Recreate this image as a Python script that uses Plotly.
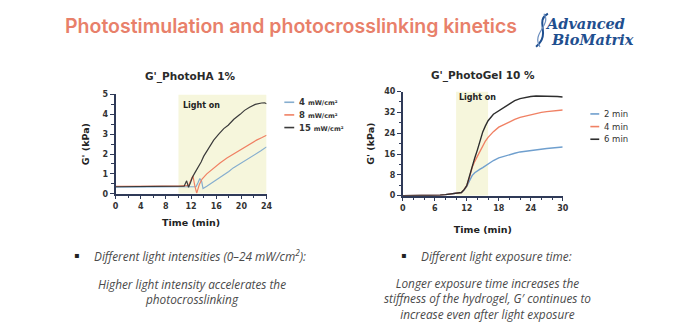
import plotly.graph_objects as go

W, H = 700, 332

# ---------------- data ----------------
# Left panel: G'_PhotoHA 1%  (time in min, G' in kPa)
ha_names = ["4", "8", "15"]
ha_colors = ["#86aecf", "#f08164", "#3b3b3b"]

t_ha_4 = [0, 2, 4, 6, 8, 10, 11, 12, 12.8, 13.1, 13.4, 13.7, 13.9, 14.5, 15.2, 16.1, 17, 18, 18.7, 19.5, 20.3, 21.3, 22.2, 23.1, 24]
g_ha_4 = [0.33, 0.33, 0.33, 0.33, 0.34, 0.34, 0.36, 0.35, 0.36, 0.55, 0.77, 0.6, 0.26, 0.38, 0.52, 0.7, 0.9, 1.12, 1.3, 1.45, 1.6, 1.8, 1.97, 2.16, 2.36]

t_ha_8 = [0, 2, 4, 6, 8, 10, 11, 11.6, 12.0, 12.3, 12.6, 12.9, 13.3, 13.75, 14.5, 15.6, 16.6, 17.7, 19, 20.3, 21.3, 22.4, 23.2, 24]
g_ha_8 = [0.37, 0.38, 0.38, 0.38, 0.38, 0.38, 0.39, 0.42, 0.7, 0.9, 0.4, 0.03, 0.45, 0.74, 1.0, 1.31, 1.55, 1.8, 2.05, 2.29, 2.5, 2.7, 2.82, 2.95]

t_ha_15 = [0, 2, 4, 6, 8, 10, 10.9, 11.3, 11.6, 11.9, 12.2, 12.6, 13.1, 13.6, 14.0, 14.8, 15.6, 16.4, 17.2, 17.9, 18.8, 19.8, 20.5, 21.3, 22.2, 23.2, 23.7, 24]
g_ha_15 = [0.35, 0.35, 0.35, 0.35, 0.35, 0.36, 0.38, 0.65, 0.32, 0.55, 0.82, 1.05, 1.3, 1.6, 1.88, 2.3, 2.7, 3.0, 3.28, 3.45, 3.75, 4.0, 4.2, 4.36, 4.5, 4.57, 4.58, 4.53]

# Right panel: G'_PhotoGel 10 %
gel_names = ["2 min", "4 min", "6 min"]
gel_colors = ["#6f9fce", "#f08164", "#2e2e2e"]

t_gel = [0, 3, 6, 7, 8, 9, 10, 11, 11.5, 12, 12.5, 13, 13.5, 14, 14.5, 15, 15.5, 16, 17, 18, 19, 20, 21, 22, 23, 24, 25, 26, 27, 28, 29, 30]
g_gel_2 = [0, 0, 0.1, 0.2, 0.4, 0.7, 0.9, 1.2, 2.2, 3.6, 5.7, 7.7, 8.8, 9.6, 10.2, 10.8, 11.5, 12.3, 13.5, 14.5, 15.2, 15.8, 16.3, 16.8, 17.1, 17.4, 17.7, 17.9, 18.1, 18.3, 18.5, 18.7]
g_gel_4 = [0, 0, 0.1, 0.2, 0.4, 0.7, 0.9, 1.2, 2.3, 3.8, 7.0, 10.8, 13.2, 15.2, 17.5, 19.5, 21.0, 22.4, 24.6, 26.3, 27.4, 28.4, 29.3, 30.1, 30.6, 31.1, 31.6, 32.0, 32.3, 32.5, 32.7, 32.9]
g_gel_6 = [0, 0, 0.1, 0.2, 0.4, 0.7, 0.9, 1.2, 2.3, 3.8, 7.4, 11.4, 14.5, 17.6, 21.0, 24.5, 26.8, 28.8, 31.3, 32.6, 34.0, 35.4, 36.5, 37.3, 37.8, 38.1, 38.3, 38.3, 38.3, 38.2, 38.1, 37.9]

light_on_ha = [10, 24]
light_on_gel = [10, 16]

ha_x_ticks = [0, 4, 8, 12, 16, 20, 24]
ha_y_ticks = [0, 1, 2, 3, 4, 5]
gel_x_ticks = [0, 6, 12, 18, 24, 30]
gel_y_ticks = [0, 8, 16, 24, 32, 40]

# ---------------- helpers ----------------
def px(x):
    return x / W

def py(y):
    return 1 - y / H

AXC = "#2f3a58"
TICKF = dict(family="DejaVu Sans", size=8, color="#333333", weight="bold")
TITF = dict(family="DejaVu Sans", size=9.5, color="#222222", weight="bold")

fig = go.Figure()

ha_series = [(t_ha_4, g_ha_4), (t_ha_8, g_ha_8), (t_ha_15, g_ha_15)]
for (tt, gg), name, col in zip(ha_series, ha_names, ha_colors):
    fig.add_trace(go.Scatter(x=tt, y=gg, mode="lines", name=name + " mW/cm²",
                             line=dict(color=col, width=1.2), xaxis="x", yaxis="y",
                             showlegend=False))

gel_series = [g_gel_2, g_gel_4, g_gel_6]
for gg, name, col in zip(gel_series, gel_names, gel_colors):
    fig.add_trace(go.Scatter(x=t_gel, y=gg, mode="lines", name=name,
                             line=dict(color=col, width=1.4), xaxis="x2", yaxis="y2",
                             showlegend=False))

def axis(domain, rng, ticks, minor, anchor, title=None, standoff=None):
    d = dict(domain=domain, range=rng, anchor=anchor, tickmode="array", tickvals=ticks,
             showline=True, linecolor=AXC, linewidth=1.5, ticks="outside", ticklen=4,
             tickwidth=1.2, tickcolor=AXC, showgrid=False, zeroline=False,
             tickfont=TICKF, fixedrange=True,
             minor=dict(ticks="outside", ticklen=2.5, tickwidth=1, tickcolor=AXC, dtick=minor, showgrid=False))
    if title:
        d["title"] = dict(text=title, font=TITF, standoff=standoff)
    return d

fig.update_layout(
    width=W, height=H, autosize=False,
    margin=dict(l=0, r=0, t=0, b=0),
    paper_bgcolor="white", plot_bgcolor="white",
    showlegend=False,
    xaxis=axis([px(114), px(267)], [0, 24], ha_x_ticks, 2, "y", "Time (min)", 9),
    yaxis=axis([py(195), py(93)], [0, 5], ha_y_ticks, 0.5, "x", "G' (kPa)", 11),
    xaxis2=axis([px(405), px(567)], [0, 30], gel_x_ticks, 2, "y2", "Time (min)", 14),
    yaxis2=axis([py(197), py(90)], [0, 40], gel_y_ticks, 4, "x2", "G' (kPa)", 8),
)

def note(x, y, text, font, xanchor="center", xref="paper", yref="paper"):
    if xref == "paper":
        x = px(x)
    if yref == "paper":
        y = py(y)
    fig.add_annotation(xref=xref, yref=yref, x=x, y=y, text=text, showarrow=False,
                       xanchor=xanchor, yanchor="middle", font=font)

# Light-on periods
for (a, b), xr, yr, top in [(light_on_ha, "x", "y", 5), (light_on_gel, "x2", "y2", 40)]:
    fig.add_shape(type="rect", xref=xr, yref=yr, x0=a, x1=b, y0=0, y1=top,
                  fillcolor="#f6f6dc", line=dict(width=0), layer="below")

LIGHTF = dict(family="DejaVu Sans", size=8, color="#222", weight="bold")
note(13.6, 4.45, "Light on", LIGHTF, xref="x", yref="y")
note(14.0, 37.7, "Light on", LIGHTF, xref="x2", yref="y2")

# Chart titles
CTF = dict(family="DejaVu Sans", size=10.5, color="#2a2a2a", weight="bold")
note(190, 75, "G'_PhotoHA 1%", CTF)
note(486, 73, "G'_PhotoGel 10 %", CTF)

# Legends (drawn as keys)
LEGF = dict(family="DejaVu Sans", size=8.5, color="#333", weight="bold")
for i, (name, col) in enumerate(zip(ha_names, ha_colors)):
    yy = 101 + 13 * i
    fig.add_shape(type="line", xref="paper", yref="paper", x0=px(285), x1=px(295), y0=py(yy), y1=py(yy),
                  line=dict(color=col, width=1.6))
    note(298, yy, name + " <span style='font-size:6.5px'>mW/cm²</span>", LEGF, xanchor="left")
for i, (name, col) in enumerate(zip(gel_names, gel_colors)):
    yy = 113 + 13 * i
    fig.add_shape(type="line", xref="paper", yref="paper", x0=px(595), x1=px(604), y0=py(yy), y1=py(yy),
                  line=dict(color=col, width=1.6))
    note(607, yy, name, dict(family="DejaVu Sans", size=8.5, color="#333"), xanchor="left")

# Main title
note(61, 23, "Photostimulation and photocrosslinking kinetics",
     dict(family="Inter", size=19.5, color="#e8806a", weight=600), xanchor="left")

# Logo
LOGO = "#1f4f8f"
note(547, 20, "<b><i>Advanced</i></b>", dict(family="DejaVu Serif", size=14.5, color=LOGO), xanchor="left")
note(553, 36, "<b><i>BioMatrix</i></b>", dict(family="DejaVu Serif", size=14.5, color=LOGO), xanchor="left")
helix = "M {a},{b} C {c},{d} {e},{f} {g},{h}".format(
    a=px(552), b=py(10), c=px(538), d=py(18), e=px(556), f=py(30), g=px(540), h=py(44))
helix2 = "M {a},{b} C {c},{d} {e},{f} {g},{h}".format(
    a=px(548), b=py(10), c=px(556), d=py(22), e=px(535), f=py(30), g=px(544), h=py(44))
fig.add_shape(type="path", xref="paper", yref="paper", path=helix, line=dict(color=LOGO, width=2))
fig.add_shape(type="path", xref="paper", yref="paper", path=helix2, line=dict(color="#6d8fbf", width=1.2))

# Bottom texts
BODY = dict(family="Open Sans", size=11.8, color="#4a4a4a", style="italic", weight=400)
BUL = dict(family="DejaVu Sans", size=8, color="#222")
note(74, 259, "▪", BUL)
note(90, 259, "Different light intensities (0–24 mW/cm<sup>2</sup>):", BODY, xanchor="left")
note(191, 295.5, "Higher light intensity accelerates the<br>photocrosslinking", BODY)
note(406, 259, "▪", BUL)
note(421, 259, "Different light exposure time:", BODY, xanchor="left")
note(491, 302.5, "Longer exposure time increases the<br>stiffness of the hydrogel, G′ continues to<br>increase even after light exposure", BODY)

fig.write_html("out.html")
